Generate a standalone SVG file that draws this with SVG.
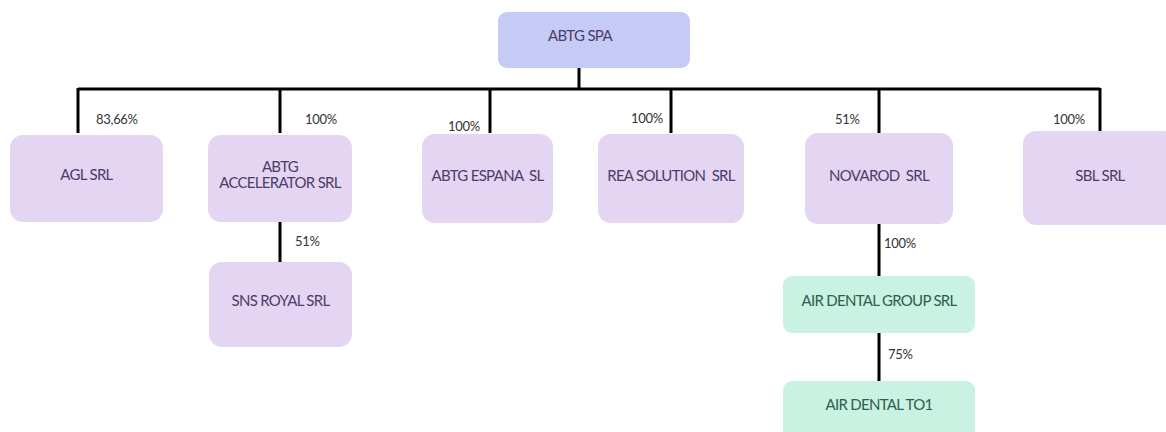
<svg xmlns="http://www.w3.org/2000/svg" width="1166" height="432" viewBox="0 0 1166 432">
<style>
.n{fill:#e4d5f2}
.top{fill:#c5cbf5}
.g{fill:#c9f2e2}
.t{font-family:Lato,"Liberation Sans",sans-serif;font-size:15px;fill:#4b3d68;text-anchor:middle;letter-spacing:-0.7px}
.tg{font-family:Lato,"Liberation Sans",sans-serif;font-size:15px;fill:#2f5c4c;text-anchor:middle;letter-spacing:-0.7px}
.p{font-family:Lato,"Liberation Sans",sans-serif;font-size:13px;fill:#333;letter-spacing:-0.3px}
.c{stroke:#000;stroke-width:3;fill:none}
</style>
<rect width="1166" height="432" fill="#fff"/>
<g id="connectors">
<path class="c" d="M579 68V89M78 89H1100M78 88V133M280 88V133M490 88V133M671 88V133M879 88V133M1100 88V131M280 222V262M879 224V276M879 333V381"/>
<text class="p" x="96" y="124">83,66%</text>
<text class="p" x="305" y="124">100%</text>
<text class="p" x="448" y="131">100%</text>
<text class="p" x="631" y="123">100%</text>
<text class="p" x="835" y="124">51%</text>
<text class="p" x="1053" y="124">100%</text>
<text class="p" x="295" y="246">51%</text>
<text class="p" x="884" y="248">100%</text>
<text class="p" x="888" y="359">75%</text>
</g>
<g id="abtg-spa"><rect class="top" x="498" y="12" width="192" height="56" rx="9"/><text class="t" x="580" y="41">ABTG SPA</text></g>
<g id="agl"><rect class="n" x="10" y="135" width="153" height="87" rx="13"/><text class="t" x="86.5" y="180">AGL SRL</text></g>
<g id="abtg-accelerator"><rect class="n" x="208" y="135" width="144" height="87" rx="13"/><text class="t" x="280" y="172">ABTG</text><text class="t" x="280" y="188">ACCELERATOR SRL</text></g>
<g id="abtg-espana"><rect class="n" x="422" y="134" width="131" height="89" rx="13"/><text class="t" x="487.5" y="181" xml:space="preserve">ABTG ESPANA  SL</text></g>
<g id="rea-solution"><rect class="n" x="598" y="134" width="146" height="89" rx="13"/><text class="t" x="671" y="181" xml:space="preserve">REA SOLUTION  SRL</text></g>
<g id="novarod"><rect class="n" x="805" y="133" width="148" height="91" rx="13"/><text class="t" x="879" y="181" xml:space="preserve">NOVAROD  SRL</text></g>
<g id="sbl"><rect class="n" x="1023" y="131" width="154" height="94" rx="13"/><text class="t" x="1100" y="181">SBL SRL</text></g>
<g id="sns-royal"><rect class="n" x="209" y="262" width="143" height="85" rx="13"/><text class="t" x="280.5" y="306">SNS ROYAL SRL</text></g>
<g id="air-dental-group"><rect class="g" x="783" y="276" width="192" height="57" rx="9"/><text class="tg" x="879" y="306">AIR DENTAL GROUP SRL</text></g>
<g id="air-dental-to1"><rect class="g" x="783" y="381" width="192" height="60" rx="9"/><text class="tg" x="879" y="410">AIR DENTAL TO1</text></g>
</svg>
